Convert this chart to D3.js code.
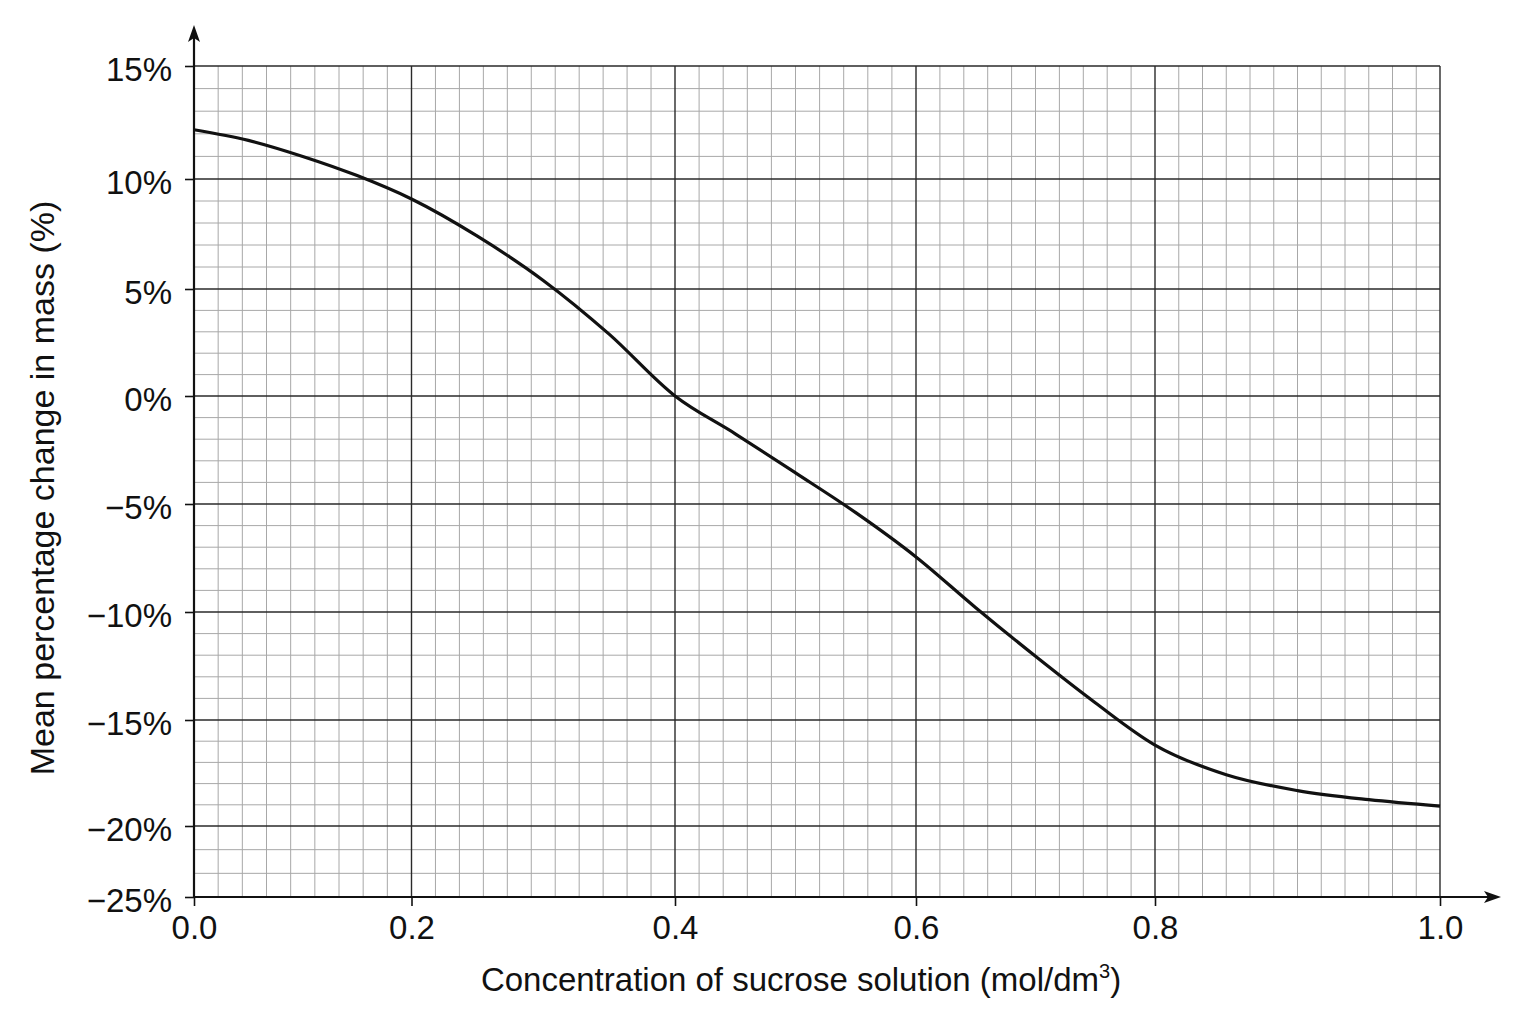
<!DOCTYPE html>
<html>
<head>
<meta charset="utf-8">
<script src="https://cdn.jsdelivr.net/npm/d3@7"></script>
<style>
  body { margin: 0; background: #fff; }
  text { font-family: "Liberation Sans", Arial, sans-serif; fill: #111; }
</style>
</head>
<body>
<div class="chart"></div>
<script>
// data
var xTicks = [0, 0.2, 0.4, 0.6, 0.8, 1.0];
var xTickLabels = ["0.0", "0.2", "0.4", "0.6", "0.8", "1.0"];
var yTicks = [15, 10, 5, 0, -5, -10, -15, -20, -25];
var yTickLabels = ["15%", "10%", "5%", "0%", "\u22125%", "\u221210%", "\u221215%", "\u221220%", "\u221225%"];
var concentration = [0, 0.05, 0.1, 0.15, 0.2, 0.25, 0.3, 0.35, 0.4, 0.45, 0.5,
                     0.55, 0.6, 0.65, 0.7, 0.75, 0.8, 0.85, 0.9, 0.95, 1.0];
var massChange = [12.18, 11.71, 11.0, 10.15, 9.09, 7.4, 5.39, 2.89, 0, -1.75, -3.56,
                  -5.4, -7.45, -9.8, -12.05, -14.2, -16.18, -17.58, -18.33, -18.76, -19.06];
var xTitle = "Concentration of sucrose solution (mol/dm";
var yTitle = "Mean percentage change in mass (%)";

var width = 1536;
var height = 1024;

// the printed grid is not evenly spaced, so the scales are piecewise
var xStops = [194, 411.5, 675, 916, 1155, 1440];
var yStops = [66, 179, 289, 396, 504, 612, 720, 826, 897];
var xMinor = [9, 11, 10, 10, 12];
var yMinor = [5, 5, 5, 5, 5, 5, 5, 3];

var svg = d3.select('div.chart')
    .append('svg')
    .attr('width', width)
    .attr('height', height);

var xScale = d3.scaleLinear().domain(xTicks).range(xStops);
var yScale = d3.scaleLinear().domain(yTicks).range(yStops);

var x0 = xScale(0), x1 = xScale(1.0);
var yTop = yScale(15), yBot = yScale(-25);

// minor grid values
var xMinorVals = [];
xTicks.slice(1).forEach(function(b, i) {
    var a = xTicks[i];
    for (var k = 1; k < xMinor[i]; k++) xMinorVals.push(a + (b - a) * k / xMinor[i]);
});
var yMinorVals = [];
yTicks.slice(1).forEach(function(b, i) {
    var a = yTicks[i];
    for (var k = 1; k < yMinor[i]; k++) yMinorVals.push(a + (b - a) * k / yMinor[i]);
});

var grid = svg.append('g');
grid.selectAll('line.vmin')
    .data(xMinorVals)
    .enter().append('line')
    .attr('x1', function(d) { return xScale(d); })
    .attr('x2', function(d) { return xScale(d); })
    .attr('y1', yTop).attr('y2', yBot)
    .attr('stroke', '#a8a8a8').attr('stroke-width', 1);
grid.selectAll('line.hmin')
    .data(yMinorVals)
    .enter().append('line')
    .attr('y1', function(d) { return yScale(d); })
    .attr('y2', function(d) { return yScale(d); })
    .attr('x1', x0).attr('x2', x1)
    .attr('stroke', '#a8a8a8').attr('stroke-width', 1);
grid.selectAll('line.vmaj')
    .data(xTicks.slice(1))
    .enter().append('line')
    .attr('x1', function(d) { return xScale(d); })
    .attr('x2', function(d) { return xScale(d); })
    .attr('y1', yTop).attr('y2', yBot)
    .attr('stroke', '#2a2a2a').attr('stroke-width', 1.4);
grid.selectAll('line.hmaj')
    .data(yTicks.slice(0, -1))
    .enter().append('line')
    .attr('y1', function(d) { return yScale(d); })
    .attr('y2', function(d) { return yScale(d); })
    .attr('x1', x0).attr('x2', x1)
    .attr('stroke', '#2a2a2a').attr('stroke-width', 1.4);

// axes
var yAxis = svg.append('g')
    .attr('transform', 'translate(' + x0 + ',0)')
    .call(d3.axisLeft(yScale)
        .tickValues(yTicks)
        .tickFormat(function(d, i) { return yTickLabels[i]; })
        .tickSize(9)
        .tickPadding(13));
yAxis.select('.domain').remove();
yAxis.selectAll('.tick line').attr('stroke', '#111').attr('stroke-width', 1.6);
yAxis.selectAll('.tick text')
    .attr('dy', '0.45em')
    .style('font-size', '33px')
    .style('font-family', '"Liberation Sans", Arial, sans-serif')
    .attr('fill', '#111');

var xAxis = svg.append('g')
    .attr('transform', 'translate(0,' + yBot + ')')
    .call(d3.axisBottom(xScale)
        .tickValues(xTicks)
        .tickFormat(function(d, i) { return xTickLabels[i]; })
        .tickSize(9)
        .tickPadding(10));
xAxis.select('.domain').remove();
xAxis.selectAll('.tick line').attr('stroke', '#111').attr('stroke-width', 1.6);
xAxis.selectAll('.tick text')
    .style('font-size', '33px')
    .style('font-family', '"Liberation Sans", Arial, sans-serif')
    .attr('fill', '#111');

// axis lines with arrows
svg.append('line')
    .attr('x1', x0).attr('x2', x0)
    .attr('y1', yBot).attr('y2', 38)
    .attr('stroke', '#111').attr('stroke-width', 2.2);
svg.append('path')
    .attr('d', 'M' + x0 + ',25 L' + (x0 - 6) + ',42 L' + x0 + ',38 L' + (x0 + 6) + ',42 Z')
    .attr('fill', '#111');
svg.append('line')
    .attr('x1', x0).attr('x2', 1488)
    .attr('y1', yBot).attr('y2', yBot)
    .attr('stroke', '#111').attr('stroke-width', 2.2);
svg.append('path')
    .attr('d', 'M1501,' + yBot + ' L1484,' + (yBot - 6) + ' L1488,' + yBot + ' L1484,' + (yBot + 6) + ' Z')
    .attr('fill', '#111');

// curve
var line = d3.line()
    .x(function(d, i) { return xScale(concentration[i]); })
    .y(function(d) { return yScale(d); })
    .curve(d3.curveMonotoneX);
svg.append('path')
    .datum(massChange)
    .attr('d', line)
    .attr('fill', 'none')
    .attr('stroke', '#111')
    .attr('stroke-width', 3.2);

// titles
var xt = svg.append('text')
    .attr('x', 801)
    .attr('y', 991)
    .attr('text-anchor', 'middle')
    .style('font-size', '33px');
xt.append('tspan').text(xTitle);
xt.append('tspan').attr('dy', -13).style('font-size', '20px').text('3');
xt.append('tspan').attr('dy', 13).text(')');

svg.append('text')
    .attr('transform', 'translate(54,488) rotate(-90)')
    .attr('text-anchor', 'middle')
    .style('font-size', '34px')
    .text(yTitle);
</script>
</body>
</html>
